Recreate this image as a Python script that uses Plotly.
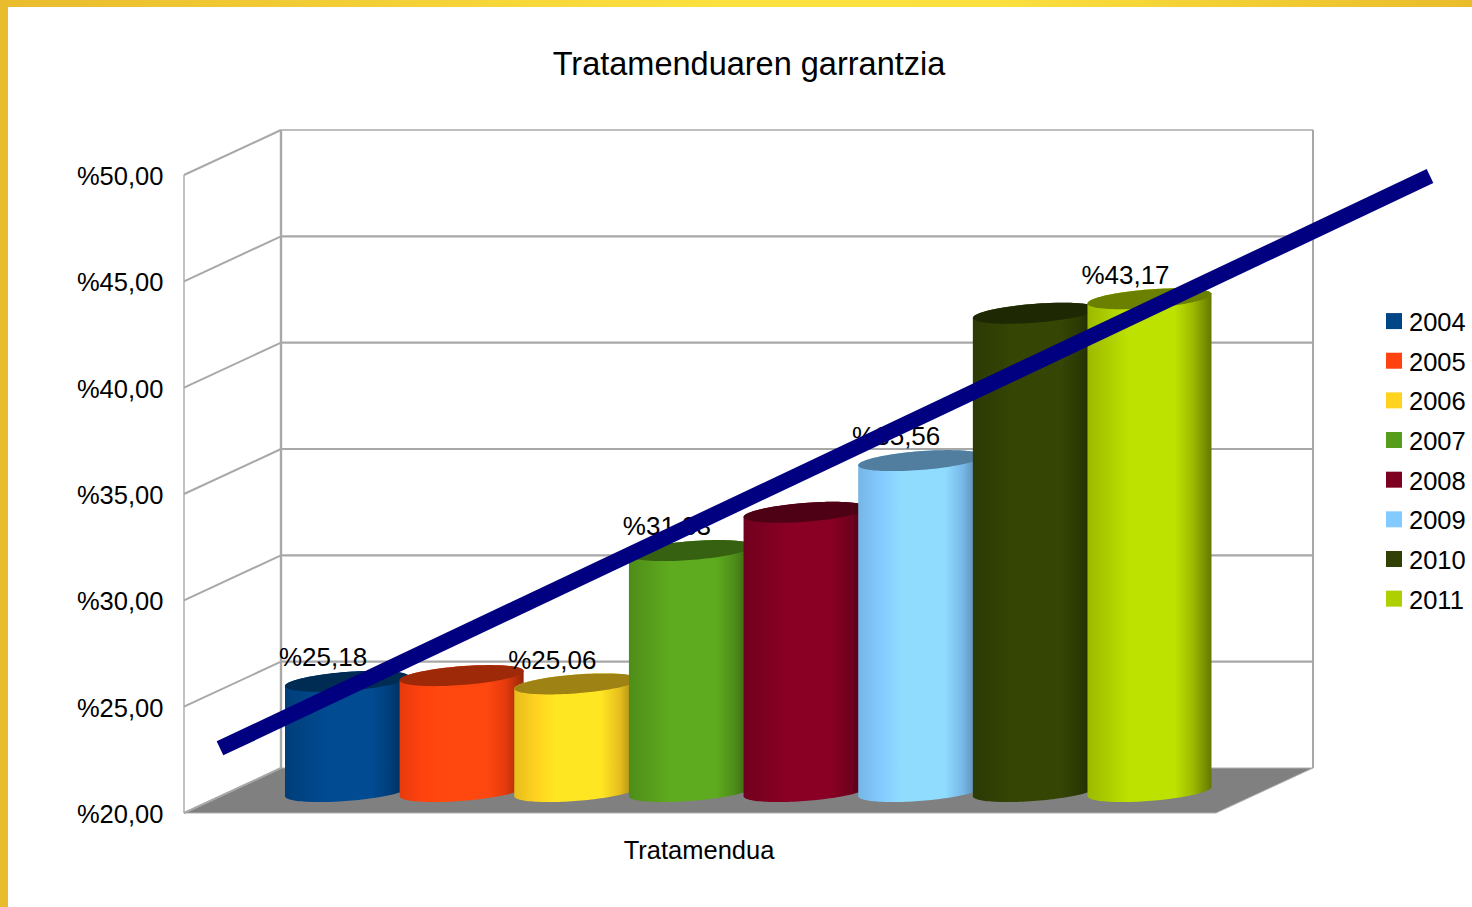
import numpy as np
import plotly.graph_objects as go

# ---- data ----
series_names = ["2004", "2005", "2006", "2007", "2008", "2009", "2010", "2011"]
series_values = [25.18, 25.45, 25.06, 31.33, 33.13, 35.56, 42.49, 43.17]
series_labels = ["%25,18", None, "%25,06", "%31,33", None, "%35,56", None, "%43,17"]
series_colors = ["#004586", "#ff420e", "#ffd320", "#579d1c", "#7e0021", "#83caff", "#314004", "#aecf00"]
y_ticks = [20, 25, 30, 35, 40, 45, 50]
y_tick_labels = ["%20,00", "%25,00", "%30,00", "%35,00", "%40,00", "%45,00", "%50,00"]
category_label = "Tratamendua"
trend_x = [-1.108, 9.447]
trend_y = [23.04, 49.95]

# ---- layout geometry ----
W, H = 1472, 907
PX_PER_VALUE = 638 / 30
PX_PER_BAR = 114.64
X0_PX, Y20_PX = 347, 813
x_range = [(0 - X0_PX) / PX_PER_BAR, (W - X0_PX) / PX_PER_BAR]
y_range = [20 - (H - Y20_PX) / PX_PER_VALUE, 20 + Y20_PX / PX_PER_VALUE]
DEPTH_X = 97 / PX_PER_BAR
DEPTH_Y = 45 / PX_PER_VALUE
FRONT_L = (184 - X0_PX) / PX_PER_BAR
FRONT_R = (1216 - X0_PX) / PX_PER_BAR
BAR_A = 62 / PX_PER_BAR
BAR_B = 9.4 / PX_PER_VALUE
BAR_TILT = 4.7 / PX_PER_VALUE
BAR_BASE = 1.01
GRID = "#a8a8a8"


def shade(hex_color, k):
    r, g, b = (int(hex_color[i:i + 2], 16) for i in (1, 3, 5))
    return "rgb({},{},{})".format(*(min(255, int(round(c * k))) for c in (r, g, b)))


fig = go.Figure()

# top band
fig.add_trace(go.Scatter(
    x=[x_range[0], x_range[1], x_range[1], x_range[0], x_range[0]],
    y=[y_range[1], y_range[1], y_range[1] - 7 / PX_PER_VALUE, y_range[1] - 7 / PX_PER_VALUE, y_range[1]],
    mode="none", fill="toself", showlegend=False, hoverinfo="skip",
    fillgradient=dict(type="horizontal",
                      colorscale=[[0, "#e9bc2e"], [0.5, "#fde23f"], [0.68, "#fbe03e"], [1, "#e9bc2c"]]),
))

# cylinders
for i, (name, v, col) in enumerate(zip(series_names, series_values, series_colors)):
    t_front = np.linspace(np.pi, 2 * np.pi, 60)
    t_back = np.linspace(0, np.pi, 60)
    bx = i + BAR_A * np.cos(t_front)
    by = 20 + BAR_BASE + BAR_B * np.sin(t_front) + BAR_TILT * np.cos(t_front)
    tx = i + BAR_A * np.cos(t_back)
    ty = v + BAR_BASE + BAR_B * np.sin(t_back) + BAR_TILT * np.cos(t_back)
    stops = [(0, .9), (.18, 1.0), (.34, 1.09), (.70, 1.09), (.85, .9), (1, .58)]
    fig.add_trace(go.Scatter(
        x=np.r_[bx, tx, bx[0]], y=np.r_[by, ty, by[0]],
        mode="none", fill="toself", showlegend=False, hoverinfo="skip",
        fillgradient=dict(type="horizontal", colorscale=[[p, shade(col, k)] for p, k in stops]),
    ))
    te = np.linspace(0, 2 * np.pi, 100)
    fig.add_trace(go.Scatter(
        x=i + BAR_A * np.cos(te),
        y=v + BAR_BASE + BAR_B * np.sin(te) + BAR_TILT * np.cos(te),
        mode="none", fill="toself", fillcolor=shade(col, .62),
        showlegend=False, hoverinfo="skip",
    ))

# data labels (only the labelled series)
lab = [(i - 24 / PX_PER_BAR, v + BAR_BASE + 1.02, t)
       for i, (v, t) in enumerate(zip(series_values, series_labels)) if t]
fig.add_trace(go.Scatter(
    x=[a[0] for a in lab], y=[a[1] for a in lab], text=[a[2] for a in lab],
    mode="text", textposition="middle center",
    textfont=dict(size=26, color="#000000", family="Liberation Sans"),
    showlegend=False, hoverinfo="skip",
))

# trend line
fig.add_trace(go.Scatter(
    x=trend_x, y=trend_y, mode="lines",
    line=dict(color="#000080", width=15.5), showlegend=False, hoverinfo="skip",
))

# legend entries
for name, col in zip(series_names, series_colors):
    fig.add_trace(go.Scatter(
        x=[None], y=[None], mode="markers", name=name, legendgroup=name,
        marker=dict(symbol="square", size=16, color=col, angle=90, standoff=5), hoverinfo="skip",
    ))

# walls and floor
shapes = [
    dict(type="rect", xref="paper", yref="paper", x0=0, x1=8 / W, y0=0, y1=1,
         fillcolor="#e9bc2e", line_width=0, layer="below"),
    dict(type="path", xref="x", yref="y", layer="below", fillcolor="#808080", line=dict(color="#b0b0b0", width=1),
         path=f"M{FRONT_L},20 L{FRONT_L + DEPTH_X},{20 + DEPTH_Y} L{FRONT_R + DEPTH_X},{20 + DEPTH_Y} L{FRONT_R},20 Z"),
]
def seg(x0, y0, x1, y1, w=2):
    return dict(type="line", xref="x", yref="y", x0=x0, y0=y0, x1=x1, y1=y1,
                layer="below", line=dict(color=GRID, width=w))
for v in y_ticks:
    shapes.append(seg(FRONT_L, v, FRONT_L + DEPTH_X, v + DEPTH_Y))
    if v > 20:
        shapes.append(seg(FRONT_L + DEPTH_X, v + DEPTH_Y, FRONT_R + DEPTH_X, v + DEPTH_Y, 2.2 if v < 50 else 1.4))
shapes.append(seg(FRONT_L, 20, FRONT_L, 50, 1.4))
shapes.append(seg(FRONT_L + DEPTH_X, 20 + DEPTH_Y, FRONT_L + DEPTH_X, 50 + DEPTH_Y, 2.4))
shapes.append(seg(FRONT_R + DEPTH_X, 20 + DEPTH_Y, FRONT_R + DEPTH_X, 50 + DEPTH_Y, 2))

FONT = "Liberation Sans"
fig.update_layout(
    width=W, height=H, autosize=False,
    margin=dict(l=0, r=0, t=0, b=0, pad=0),
    paper_bgcolor="#ffffff", plot_bgcolor="rgba(0,0,0,0)",
    font=dict(family=FONT, size=26, color="#000000"),
    title=dict(text="Tratamenduaren garrantzia", font=dict(size=32.5, family=FONT, color="#000000"),
               x=749 / W, y=1 - 64 / H, xanchor="center", yanchor="middle", xref="paper", yref="paper"),
    xaxis=dict(range=x_range, domain=[0, 1], anchor="free", position=(H - Y20_PX) / H,
               showgrid=False, zeroline=False, showline=False,
               tickmode="array", tickvals=[(699 - X0_PX) / PX_PER_BAR], ticktext=[category_label],
               ticks="outside", ticklen=14, tickcolor="rgba(0,0,0,0)", tickfont=dict(size=25.5, family=FONT)),
    yaxis=dict(range=y_range, domain=[0, 1], anchor="free", position=184 / W,
               showgrid=False, zeroline=False, showline=False,
               tickmode="array", tickvals=y_ticks, ticktext=y_tick_labels, ticklabelshift=1,
               ticks="outside", ticklen=15.5, tickcolor="rgba(0,0,0,0)", tickfont=dict(size=25.5, family=FONT)),
    legend=dict(x=1369 / W, y=1 - 298 / H, xanchor="left", yanchor="top", tracegroupgap=3.5,
                traceorder="grouped", bgcolor="rgba(0,0,0,0)", borderwidth=0,
                font=dict(size=25.5, family=FONT, color="#000000"), itemclick=False, itemdoubleclick=False),
    shapes=shapes,
    showlegend=True,
)
fig.write_html("out.html", post_script="document.body.style.margin='0';",
               config=dict(displayModeBar=False))
